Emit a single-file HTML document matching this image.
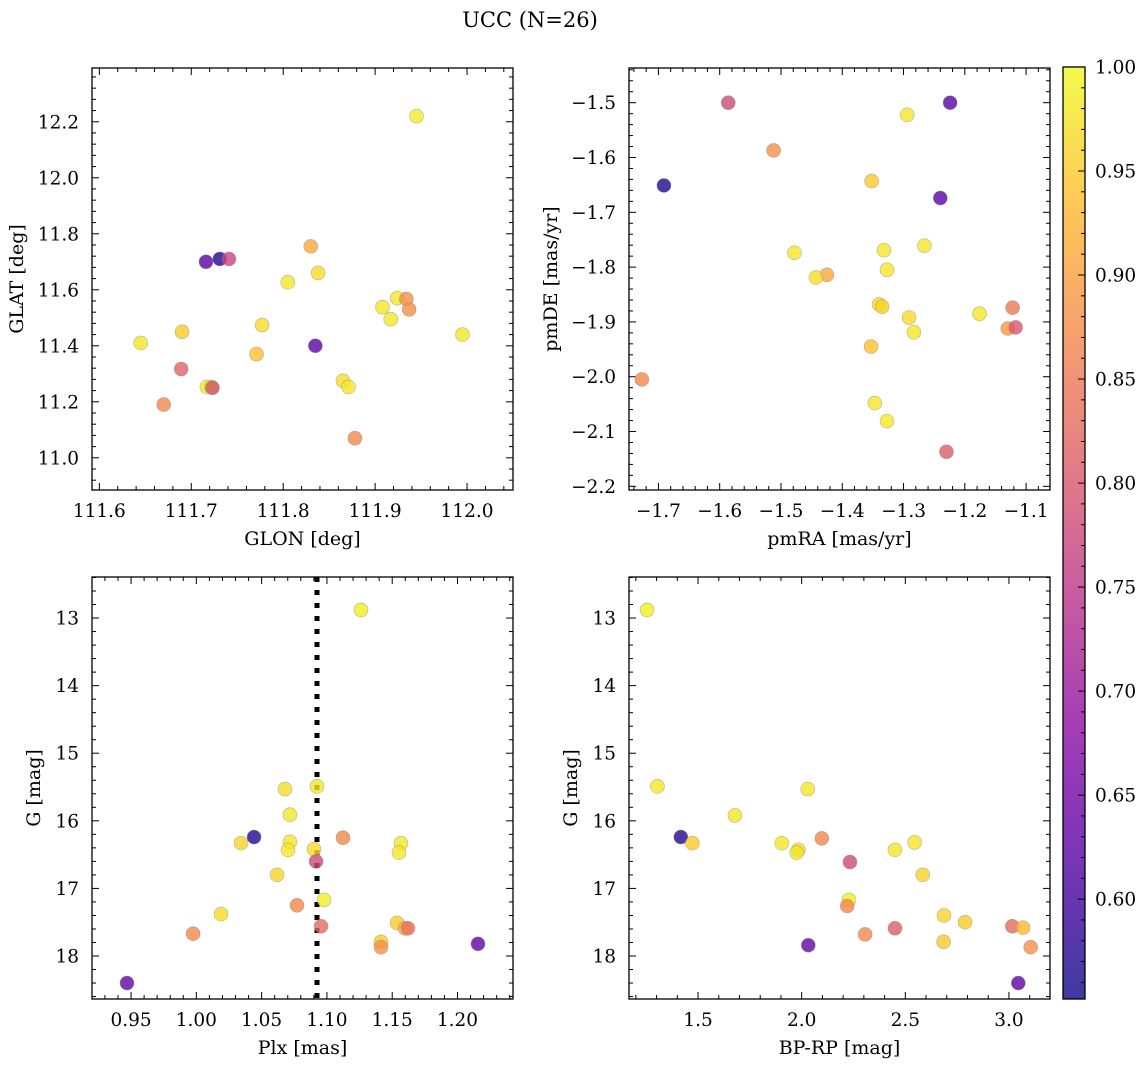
<!DOCTYPE html>
<html><head><meta charset="utf-8"><style>
body{margin:0;background:#fff;}
svg text{font-family:"DejaVu Serif","Liberation Serif",serif;fill:#000;}
</style></head><body>
<svg id="fig" width="1148" height="1067" xmlns="http://www.w3.org/2000/svg">
<text x="530" y="27" font-size="21" text-anchor="middle">UCC (N=26)</text>
</svg>
<script>
const tlX=[111.945,111.716,111.731,111.741,111.830,111.805,111.838,111.777,111.645,111.690,111.771,111.835,111.689,111.717,111.722,111.723,111.670,111.865,111.871,111.878,111.908,111.917,111.924,111.934,111.937,111.995];
const tlY=[12.22,11.70,11.71,11.71,11.755,11.627,11.66,11.474,11.41,11.45,11.37,11.40,11.317,11.253,11.253,11.25,11.19,11.275,11.253,11.07,11.538,11.495,11.57,11.567,11.53,11.44];
const tlC=[0.99,0.62,0.57,0.77,0.91,0.98,0.97,0.97,0.98,0.95,0.94,0.62,0.82,0.99,0.98,0.79,0.87,0.97,0.98,0.87,0.98,0.98,0.98,0.88,0.88,0.98];
const trX=[-1.586,-1.224,-1.294,-1.512,-1.691,-1.352,-1.240,-1.478,-1.332,-1.266,-1.327,-1.425,-1.443,-1.340,-1.335,-1.291,-1.283,-1.176,-1.122,-1.130,-1.117,-1.353,-1.727,-1.347,-1.327,-1.230];
const trY=[-1.50,-1.50,-1.522,-1.587,-1.651,-1.643,-1.674,-1.774,-1.769,-1.761,-1.805,-1.814,-1.819,-1.868,-1.872,-1.892,-1.919,-1.885,-1.874,-1.912,-1.910,-1.945,-2.005,-2.048,-2.081,-2.137];
const trC=[0.78,0.62,0.98,0.88,0.57,0.95,0.62,0.98,0.98,0.98,0.98,0.91,0.97,0.97,0.96,0.97,0.98,0.98,0.85,0.89,0.80,0.94,0.87,0.98,0.98,0.81];
const blX=[1.1261,1.0924,1.0679,1.0717,1.0442,1.0342,1.1123,1.0717,1.0702,1.0901,1.0917,1.1567,1.1552,1.0618,1.0978,1.0771,1.0189,1.0955,0.9975,1.1537,1.1598,1.1621,1.1414,1.1414,1.2157,0.9469];
const blY=[12.88,15.49,15.53,15.91,16.24,16.33,16.25,16.31,16.43,16.42,16.60,16.33,16.47,16.80,17.17,17.25,17.38,17.56,17.67,17.51,17.59,17.59,17.79,17.87,17.82,18.40];
const blC=[0.99,0.98,0.97,0.98,0.57,0.96,0.87,0.98,0.98,0.97,0.78,0.98,0.98,0.96,0.99,0.87,0.97,0.83,0.87,0.95,0.91,0.84,0.95,0.88,0.63,0.63];
const brX=[1.254,1.304,2.029,1.678,1.417,1.473,2.097,1.904,1.984,1.976,2.233,2.450,2.545,2.584,2.228,2.220,2.687,2.788,2.306,2.450,3.016,3.068,2.685,3.105,2.032,3.045];
const brY=[12.88,15.49,15.53,15.92,16.24,16.33,16.26,16.33,16.43,16.47,16.61,16.43,16.32,16.80,17.17,17.26,17.40,17.50,17.68,17.59,17.56,17.58,17.79,17.87,17.84,18.40];
const brC=[0.99,0.98,0.98,0.98,0.57,0.95,0.87,0.98,0.97,0.98,0.78,0.98,0.98,0.96,0.99,0.87,0.96,0.95,0.87,0.81,0.83,0.93,0.95,0.88,0.63,0.63];
const cbTicks=[0.60,0.65,0.70,0.75,0.80,0.85,0.90,0.95,1.00];
const plxMean=1.0924;
const CMIN=0.552, CMAX=1.0;
const NS="http://www.w3.org/2000/svg";
const svg=document.getElementById('fig');
const stops=[[13,8,135],[84,2,163],[139,10,165],[185,50,137],[219,92,104],[244,136,73],[254,188,43],[240,249,33]];
function plasma(t){t=Math.max(0,Math.min(1,t));const s=t*(stops.length-1);const i=Math.min(stops.length-2,Math.floor(s));const f=s-i;const a=stops[i],b=stops[i+1];return `rgb(${a.map((v,k)=>Math.round(v+(b[k]-v)*f)).join(',')})`;}
function mk(tag,attrs,parent){const e=document.createElementNS(NS,tag);for(const k in attrs)e.setAttribute(k,attrs[k]);(parent||svg).appendChild(e);return e;}
function fmt(v,d){return v.toFixed(d).replace('-','\u2212');}
function panel(p){
  const g=mk('g',{});
  
  
  const sx=v=>p.x0+(v-p.xmin)/(p.xmax-p.xmin)*(p.x1-p.x0);
  const sy=p.inv?(v=>p.y0+(v-p.ymin)/(p.ymax-p.ymin)*(p.y1-p.y0)):(v=>p.y1-(v-p.ymin)/(p.ymax-p.ymin)*(p.y1-p.y0));
  const eps=1e-9;
  for(let v=Math.ceil(p.xmin/p.xmn-eps)*p.xmn;v<=p.xmax+eps;v+=p.xmn){const x=sx(v);const maj=Math.abs(v/p.xmj-Math.round(v/p.xmj))<1e-6;const L=maj?7:4;
    const t1=mk('line',{x1:x,x2:x,y1:p.y1,y2:p.y1-L,stroke:'#000','stroke-width':1},g);
    const t2=mk('line',{x1:x,x2:x,y1:p.y0,y2:p.y0+L,stroke:'#000','stroke-width':1},g);
    if(maj){const t=mk('text',{x:x,y:p.y1+27,'font-size':18.5,'text-anchor':'middle'},g);t.textContent=fmt(v,p.xd);}}
  for(let v=Math.ceil(Math.min(p.ymin,p.ymax)/p.ymn-eps)*p.ymn;v<=Math.max(p.ymin,p.ymax)+eps;v+=p.ymn){const y=sy(v);const maj=Math.abs(v/p.ymj-Math.round(v/p.ymj))<1e-6;const L=maj?7:4;
    const t1=mk('line',{x1:p.x0,x2:p.x0+L,y1:y,y2:y,stroke:'#000','stroke-width':1},g);
    const t2=mk('line',{x1:p.x1,x2:p.x1-L,y1:y,y2:y,stroke:'#000','stroke-width':1},g);
    if(maj){const t=mk('text',{x:p.x0-13,y:y+6.5,'font-size':18.5,'text-anchor':'end'},g);t.textContent=fmt(v,p.yd);}}
  if(p.vline!==undefined){const l=mk('line',{x1:sx(p.vline),x2:sx(p.vline),y1:p.y0,y2:p.y1,stroke:'#000','stroke-width':5,'stroke-dasharray':'5,8'},g);}
  for(let i=0;i<p.X.length;i++){const c=mk('circle',{cx:sx(p.X[i]),cy:sy(p.Y[i]),r:7,fill:plasma((p.C[i]-CMIN)/(CMAX-CMIN)),'fill-opacity':0.8,stroke:'#888','stroke-opacity':0.6,'stroke-width':0.6},g);
    }
  const fr=mk('rect',{x:p.x0,y:p.y0,width:p.x1-p.x0,height:p.y1-p.y0,fill:'none',stroke:'#000','stroke-width':1.3},g);
  const xl=mk('text',{x:(p.x0+p.x1)/2,y:p.y1+55,'font-size':19,'text-anchor':'middle'},g);xl.textContent=p.xlab;
  const cy=(p.y0+p.y1)/2;const yl=mk('text',{x:p.yx,y:cy,'font-size':19,'text-anchor':'middle',transform:`rotate(-90 ${p.yx} ${cy})`},g);yl.textContent=p.ylab;
}
panel({name:'glon-glat-panel',x0:92,x1:513,y0:68,y1:490,xmin:111.592,xmax:112.050,ymin:10.885,ymax:12.392,xmj:0.1,xmn:0.02,ymj:0.2,ymn:0.04,xd:1,yd:1,X:tlX,Y:tlY,C:tlC,xlab:'GLON [deg]',ylab:'GLAT [deg]',yx:23});
panel({name:'pm-panel',x0:629,x1:1050,y0:68,y1:490,xmin:-1.748,xmax:-1.061,ymin:-2.2067,ymax:-1.4367,xmj:0.1,xmn:0.02,ymj:0.1,ymn:0.02,xd:1,yd:1,X:trX,Y:trY,C:trC,xlab:'pmRA [mas/yr]',ylab:'pmDE [mas/yr]',yx:557});
panel({name:'plx-g-panel',x0:92,x1:513,y0:577,y1:999,xmin:0.9201,xmax:1.2425,ymin:12.393,ymax:18.636,inv:true,xmj:0.05,xmn:0.01,ymj:1,ymn:0.2,xd:2,yd:0,X:blX,Y:blY,C:blC,xlab:'Plx [mas]',ylab:'G [mag]',yx:40,vline:plxMean});
panel({name:'cmd-panel',x0:629,x1:1050,y0:577,y1:999,xmin:1.167,xmax:3.198,ymin:12.393,ymax:18.636,inv:true,xmj:0.5,xmn:0.1,ymj:1,ymn:0.2,xd:1,yd:0,X:brX,Y:brY,C:brC,xlab:'BP-RP [mag]',ylab:'G [mag]',yx:577});
const cb=mk('g',{});


const defs=mk('defs',{},cb);const grad=mk('linearGradient',{id:'cbg',x1:0,y1:1,x2:0,y2:0},defs);
for(let i=0;i<=20;i++){mk('stop',{offset:i/20,'stop-color':plasma(i/20),'stop-opacity':0.8},grad);}
const cx0=1063,cx1=1085,cy0=67,cy1=999;
const cr=mk('rect',{x:cx0,y:cy0,width:cx1-cx0,height:cy1-cy0,fill:'url(#cbg)',stroke:'#000','stroke-width':1.3},cb);

const cs=v=>cy1-(v-CMIN)/(CMAX-CMIN)*(cy1-cy0);
for(let k=56;k<=100;k++){const v=k/100;const y=cs(v);const maj=k%5===0;
  const l=mk('line',{x1:cx1,x2:cx1-(maj?7:4),y1:y,y2:y,stroke:'#000','stroke-width':1},cb);}
cbTicks.forEach(v=>{const t=mk('text',{x:cx1+10,y:cs(v)+6.5,'font-size':18.5},cb);t.textContent=v.toFixed(2);});
</script>
</body></html>
